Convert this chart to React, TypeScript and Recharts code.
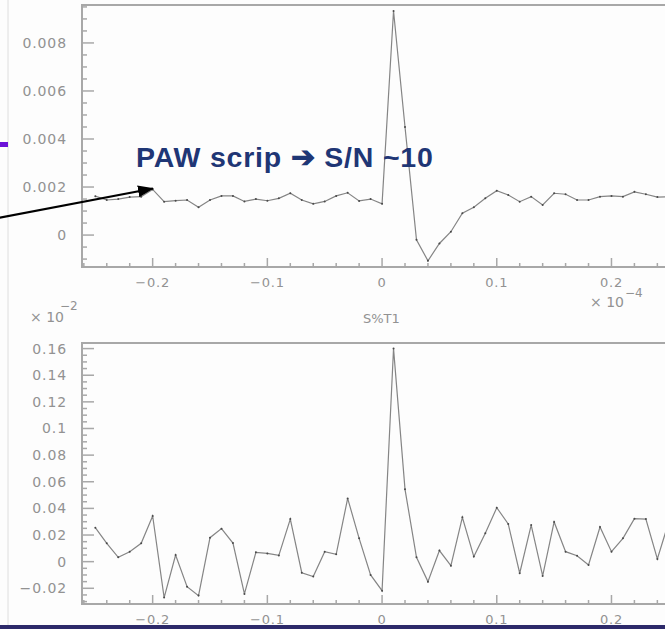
import { LineChart, Line, XAxis, YAxis, ReferenceArea } from "recharts";

// x positions of the bins (units of 10^-4)
const xValues = [
  -0.25, -0.24, -0.23, -0.22, -0.21, -0.2, -0.19, -0.18, -0.17, -0.16,
  -0.15, -0.14, -0.13, -0.12, -0.11, -0.1, -0.09, -0.08, -0.07, -0.06,
  -0.05, -0.04, -0.03, -0.02, -0.01, 0, 0.01, 0.02, 0.03, 0.04,
  0.05, 0.06, 0.07, 0.08, 0.09, 0.1, 0.11, 0.12, 0.13, 0.14,
  0.15, 0.16, 0.17, 0.18, 0.19, 0.2, 0.21, 0.22, 0.23, 0.24, 0.25,
];

// upper panel (PAW script result)
const pawValues = [
  0.00162, 0.00146, 0.0015, 0.00158, 0.0016, 0.0019, 0.00139, 0.00143, 0.00146, 0.00116,
  0.00146, 0.00163, 0.00163, 0.0014, 0.0015, 0.00143, 0.00153, 0.00174, 0.00146, 0.0013,
  0.0014, 0.00163, 0.00176, 0.00142, 0.0015, 0.0013, 0.00933, 0.0045, -0.0002, -0.00107,
  -0.00035, 0.00014, 0.00091, 0.00116, 0.00153, 0.00185, 0.00167, 0.00139, 0.0016, 0.00125,
  0.00174, 0.0017, 0.00146, 0.00146, 0.0016, 0.00163, 0.0016, 0.0018, 0.0017, 0.00158, 0.0016,
];

// lower panel (S%T1), units of 10^-2
const st1Values = [
  0.0255, 0.0138, 0.0033, 0.0075, 0.0138, 0.0343, -0.027, 0.005, -0.0188, -0.0255,
  0.018, 0.0248, 0.014, -0.0242, 0.007, 0.0062, 0.0047, 0.032, -0.0083, -0.0112,
  0.0075, 0.0055, 0.0475, 0.0175, -0.01, -0.0218, 0.16, 0.0543, 0.0033, -0.015,
  0.0083, -0.003, 0.0333, 0.0038, 0.0213, 0.0405, 0.0283, -0.0087, 0.0275, -0.0107,
  0.0298, 0.0075, 0.0045, -0.0025, 0.026, 0.0075, 0.0175, 0.0323, 0.032, 0.002, 0.03,
];

const xMajor = [-0.2, -0.1, 0, 0.1, 0.2];
const xMajorLabels = ["\u22120.2", "\u22120.1", "0", "0.1", "0.2"];
const xMinor = [
  -0.26, -0.24, -0.22, -0.2, -0.18, -0.16, -0.14, -0.12, -0.1, -0.08, -0.06, -0.04, -0.02,
  0, 0.02, 0.04, 0.06, 0.08, 0.1, 0.12, 0.14, 0.16, 0.18, 0.2, 0.22, 0.24, 0.26,
];

const topMajor = [0, 0.002, 0.004, 0.006, 0.008];
const topMajorLabels = ["0", "0.002", "0.004", "0.006", "0.008"];
const botMajor = [-0.02, 0, 0.02, 0.04, 0.06, 0.08, 0.1, 0.12, 0.14, 0.16];
const botMajorLabels = ["\u22120.02", "0", "0.02", "0.04", "0.06", "0.08", "0.1", "0.12", "0.14", "0.16"];

const X_DOMAIN: [number, number] = [-0.2616, 0.2641];
const TOP_DOMAIN: [number, number] = [-0.00133, 0.00958];
const BOT_DOMAIN: [number, number] = [-0.0318, 0.1642];

const topData = xValues.map((x, i) => ({ x, v: pawValues[i] }));
const botData = xValues.map((x, i) => ({ x, v: st1Values[i] }));

const steps = (lo: number, hi: number, step: number) => {
  const out: number[] = [];
  const n = Math.round((hi - lo) / step);
  for (let i = 0; i <= n; i++) out.push(+(lo + i * step).toFixed(6));
  return out;
};
const topTicks = steps(-0.001, 0.0095, 0.0005);
const botTicks = steps(-0.03, 0.16, 0.005);

const AXIS = "#a8a8a8";
const TXT = "#929292";
const FONT = "'DejaVu Sans', sans-serif";

const near = (a: number, b: number) => Math.abs(a - b) < 1e-7;

const XTick = (props: any) => {
  const { x, y, payload } = props;
  const idx = xMajor.findIndex((m) => near(m, payload.value));
  const major = idx >= 0;
  return (
    <g>
      <line x1={x} y1={y} x2={x} y2={y - (major ? 9 : 4)} stroke={AXIS} strokeWidth={1.5} />
      {major && (
        <text x={x} y={y + 20} textAnchor="middle" fontSize={13} fill={TXT} fontFamily={FONT} letterSpacing={0.8}>
          {xMajorLabels[idx]}
        </text>
      )}
    </g>
  );
};

const makeYTick = (majors: number[], labels: string[]) => (props: any) => {
  const { x, y, payload } = props;
  const idx = majors.findIndex((m) => near(m, payload.value));
  const major = idx >= 0;
  return (
    <g>
      <line x1={x} y1={y} x2={x + (major ? 12 : 5)} y2={y} stroke={AXIS} strokeWidth={1.5} />
      {major && (
        <text x={x - 15} y={y + 5} textAnchor="end" fontSize={14} fill={TXT} fontFamily={FONT} letterSpacing={0.9}>
          {labels[idx]}
        </text>
      )}
    </g>
  );
};

const TopYTick = makeYTick(topMajor, topMajorLabels);
const BotYTick = makeYTick(botMajor, botMajorLabels);

function Panel({ data, domain, yTicks, YTick, height }: any) {
  return (
    <LineChart width={700} height={height} data={data} margin={{ top: 5, right: 15, bottom: 0, left: 0 }}>
      <XAxis
        dataKey="x"
        type="number"
        domain={X_DOMAIN}
        allowDataOverflow
        ticks={xMinor}
        interval={0}
        tick={<XTick />}
        tickLine={false}
        tickSize={0}
        tickMargin={0}
        axisLine={false}
        height={40}
      />
      <YAxis
        type="number"
        domain={domain}
        allowDataOverflow
        ticks={yTicks}
        interval={0}
        tick={<YTick />}
        tickLine={false}
        tickSize={0}
        tickMargin={0}
        axisLine={false}
        width={82}
      />
      <ReferenceArea
        x1={X_DOMAIN[0]}
        x2={X_DOMAIN[1]}
        y1={domain[0]}
        y2={domain[1]}
        fill="none"
        stroke={AXIS}
        strokeWidth={2}
        ifOverflow="visible"
      />
      <Line
        dataKey="v"
        type="linear"
        stroke="#858585"
        strokeWidth={1.2}
        dot={{ r: 1, fill: "#4a4a4a", stroke: "none" }}
        isAnimationActive={false}
      />
    </LineChart>
  );
}

export default function App() {
  return (
    <div
      style={{
        position: "fixed",
        left: 0,
        top: 0,
        width: 665,
        height: 629,
        overflow: "hidden",
        background: "#fdfdfd",
      }}
    >
      <div style={{ position: "absolute", left: 0, top: 0 }}>
        <Panel data={topData} domain={TOP_DOMAIN} yTicks={topTicks} YTick={TopYTick} height={307} />
      </div>
      <div style={{ position: "absolute", left: 0, top: 338 }}>
        <Panel data={botData} domain={BOT_DOMAIN} yTicks={botTicks} YTick={BotYTick} height={306} />
      </div>
      <svg width={665} height={629} style={{ position: "absolute", left: 0, top: 0, pointerEvents: "none" }}>
        <defs>
          <marker id="head" markerWidth="8" markerHeight="6" refX="7.5" refY="3" orient="auto" markerUnits="strokeWidth">
            <path d="M0,0 L8,3 L0,6 Z" fill="#000" />
          </marker>
        </defs>
        <line x1={8} y1={0} x2={8} y2={629} stroke="#dedede" strokeWidth={1} />
        <rect x={0} y={142} width={8} height={5} fill="#6c12d8" />
        <line x1={-2} y1={218} x2={153} y2={188.5} stroke="#000" strokeWidth={2} markerEnd="url(#head)" />
        <text
          x={136}
          y={167}
          fontFamily="'Liberation Sans', Arial, sans-serif"
          fontWeight="bold"
          fontSize={28.5}
          letterSpacing={0.8}
          fill="#1f3675"
        >
          PAW scrip {"\u2794"} S/N ~10
        </text>
        <text x={363} y={323} fontFamily={FONT} fontSize={13} fill={TXT}>S%T1</text>
        <g fontFamily={FONT} fill={TXT}>
          <text x={590} y={307} fontSize={14}>{"\u00d7 10"}</text>
          <text x={625} y={297} fontSize={12}>{"\u22124"}</text>
          <text x={30} y={322} fontSize={14}>{"\u00d7 10"}</text>
          <text x={60} y={310} fontSize={12}>{"\u22122"}</text>
        </g>
        <rect x={0} y={625} width={665} height={4} fill="#2d2a6a" />
      </svg>
    </div>
  );
}
